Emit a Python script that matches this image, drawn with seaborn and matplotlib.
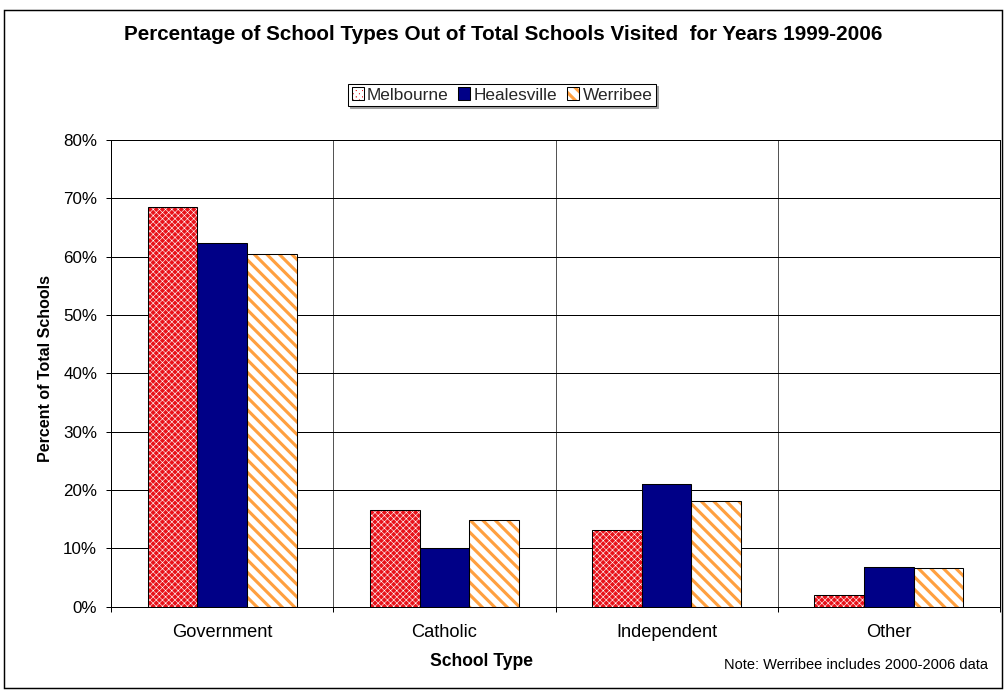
import matplotlib
matplotlib.use("Agg")
import matplotlib.pyplot as plt
from matplotlib.patches import Patch, Rectangle
from matplotlib.ticker import FixedLocator, FuncFormatter
import pandas as pd
import seaborn as sns

# ---- data -------------------------------------------------------------
school_types = ["Government", "Catholic", "Independent", "Other"]
sites = ["Melbourne", "Healesville", "Werribee"]
melbourne = [68.5, 16.6, 13.1, 2.0]
healesville = [62.4, 10.0, 21.1, 6.8]
werribee = [60.5, 14.8, 18.2, 6.7]
y_ticks = [0, 10, 20, 30, 40, 50, 60, 70, 80]

title = "Percentage of School Types Out of Total Schools Visited  for Years 1999-2006"
x_title = "School Type"
y_title = "Percent of Total Schools"
note = "Note: Werribee includes 2000-2006 data"

df = pd.DataFrame({
    "School Type": school_types * len(sites),
    "Site": [s for s in sites for _ in school_types],
    "Percent": melbourne + healesville + werribee,
})

# ---- style ------------------------------------------------------------
sns.set_theme(style="white")
plt.rcParams["font.family"] = ["Liberation Sans", "DejaVu Sans"]
plt.rcParams["hatch.linewidth"] = 3.0

fills = {
    "Melbourne": dict(face="#E8121A", hatch="xxxx", hcolor="white", hlw=0.55),
    "Healesville": dict(face="#000087", hatch=None, hcolor=None, hlw=None),
    "Werribee": dict(face="white", hatch="\\\\", hcolor="#FFA040", hlw=3.0),
}

DPI = 75
W, H = 1006, 691
fig = plt.figure(figsize=(W / DPI, H / DPI), dpi=DPI)
fig.patch.set_facecolor("white")

# plot area in pixel terms
left, right, top, bottom = 111, 1000, 140, 606.7
ax = fig.add_axes([left / W, 1 - bottom / H, (right - left) / W, (bottom - top) / H])

sns.barplot(
    data=df, x="School Type", y="Percent", hue="Site",
    order=school_types, hue_order=sites,
    width=0.67, gap=0, dodge=True, saturation=1,
    errorbar=None, legend=False, ax=ax, zorder=3,
)


def style_patch(p, st):
    p.set_facecolor(st["face"])
    if st["hatch"]:
        p.set_hatch(st["hatch"])
        p.set_edgecolor(st["hcolor"])
        p.set_linewidth(0)
        if hasattr(p, "set_hatch_linewidth"):
            p.set_hatch_linewidth(st["hlw"])
    else:
        p.set_edgecolor("black")
        p.set_linewidth(0)


for cont, site in zip(ax.containers, sites):
    st = fills[site]
    for bar in cont:
        style_patch(bar, st)
        ax.add_patch(Rectangle((bar.get_x(), bar.get_y()), bar.get_width(),
                               bar.get_height(), fill=False, edgecolor="black",
                               linewidth=1.0, zorder=4))

# ---- axes -------------------------------------------------------------
ax.set_xlim(-0.5, len(school_types) - 0.5)
ax.set_ylim(y_ticks[0], y_ticks[-1])
ax.yaxis.set_major_locator(FixedLocator(y_ticks))
ax.yaxis.set_major_formatter(FuncFormatter(lambda v, _: f"{v:.0f}%"))
ax.xaxis.set_minor_locator(FixedLocator([i - 0.5 for i in range(len(school_types) + 1)]))

ax.tick_params(axis="y", which="major", left=True, direction="out", length=4.8,
               width=0.96, color="black", labelsize=16.3, pad=8.5, labelcolor="black")
ax.tick_params(axis="x", which="major", bottom=True, length=0, labelsize=17.5,
               pad=17, labelcolor="black")
ax.tick_params(axis="x", which="minor", bottom=True, direction="out", length=4.8,
               width=0.96, color="black")

ax.set_axisbelow(True)
ax.yaxis.grid(True, color="black", linewidth=0.96)
ax.xaxis.grid(True, which="minor", color="#555555", linewidth=0.96)
ax.xaxis.grid(False, which="major")
for s in ax.spines.values():
    s.set_color("black")
    s.set_linewidth(0.96)

ax.set_xlabel(x_title, fontsize=16.8, fontweight="bold", color="black")
ax.set_ylabel(y_title, fontsize=15.4, fontweight="bold", color="black")
ax.xaxis.set_label_coords((481 - left) / (right - left), (bottom - 661) / (bottom - top))
ax.xaxis.label.set_va("center")
ax.yaxis.set_label_coords((46 - left) / (right - left), (bottom - 369) / (bottom - top))
ax.yaxis.label.set_va("center")

# ---- figure texts -----------------------------------------------------
fig.text(503 / W, 1 - 35 / H, title, ha="center", va="center",
         fontsize=19.8, fontweight="bold", color="black")
fig.text(988 / W, 1 - 665 / H, note, ha="right", va="center",
         fontsize=14.1, color="black")

# ---- legend -----------------------------------------------------------
handles = []
for site in sites:
    st = fills[site]
    fill = Patch(facecolor=st["face"])
    style_patch(fill, st)
    handles.append((fill, Patch(fill=False, edgecolor="black", linewidth=1.0)))

leg = fig.legend(
    handles, sites, loc="center", bbox_to_anchor=(502 / W, 1 - 95 / H),
    ncol=3, frameon=True, fancybox=False, edgecolor="black", framealpha=1,
    fontsize=16.6, borderpad=0.2, handlelength=0.7, handleheight=0.7,
    handletextpad=0.2, columnspacing=0.55, borderaxespad=0,
    shadow={"color": "#A0A0A0", "alpha": 1, "ox": 2, "oy": -2},
)
leg.get_frame().set_linewidth(1.0)

# outer chart border
fig.patches.append(Rectangle((4 / W, 1 - 688 / H), 998 / W, 678 / H,
                             transform=fig.transFigure, fill=False,
                             edgecolor="black", linewidth=1.4, zorder=10))

fig.savefig("out.png", dpi=DPI, facecolor="white")
